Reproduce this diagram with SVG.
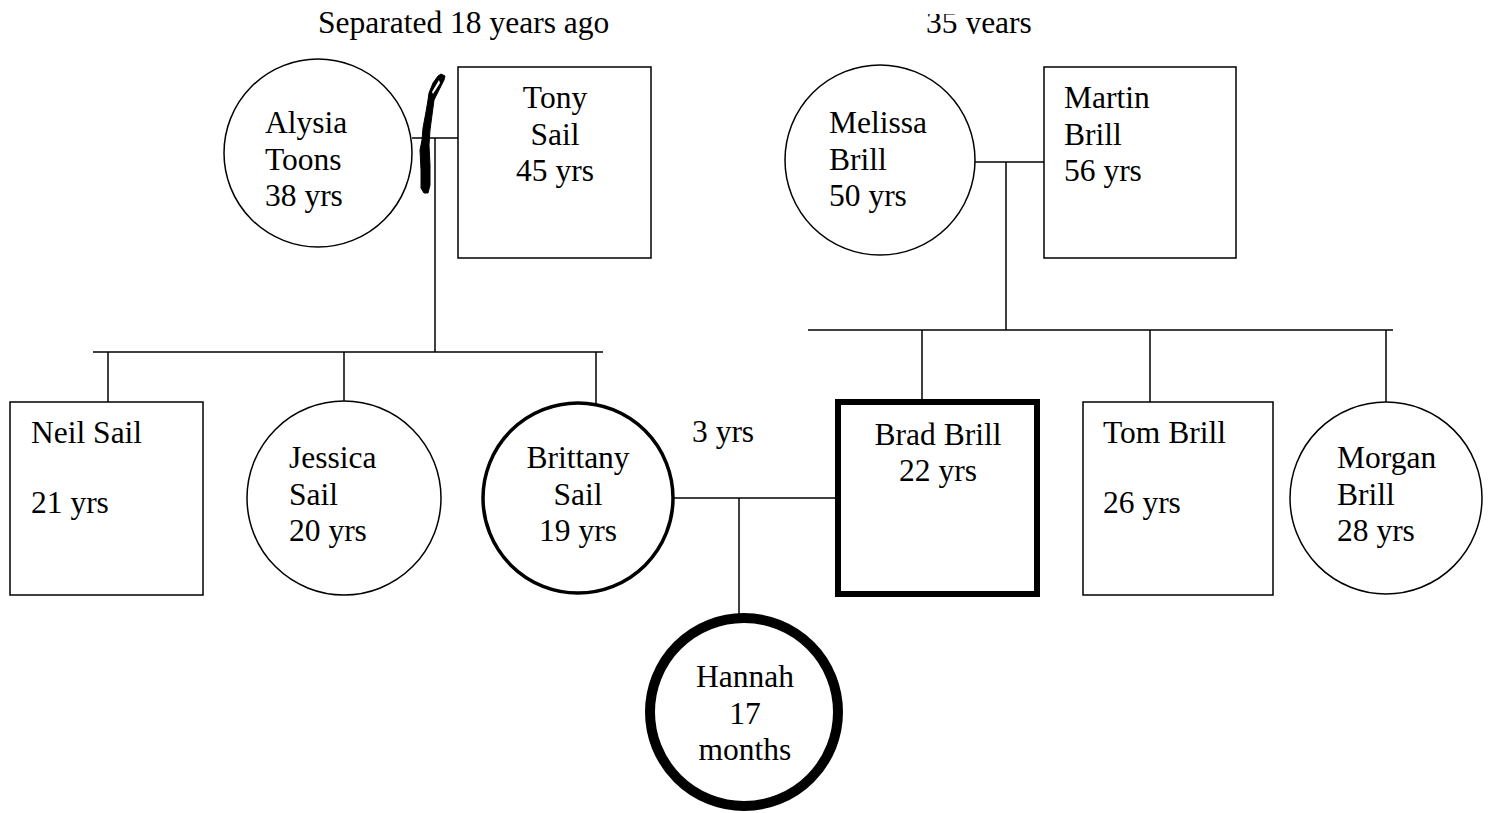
<svg xmlns="http://www.w3.org/2000/svg" width="1491" height="813" viewBox="0 0 1491 813">
<style>
  .t { font-family: "Liberation Serif", "Times New Roman", serif; font-size: 31.5px; fill: #000; }
  .m { text-anchor: middle; }
  .n { fill: #fff; stroke: #000; stroke-width: 1.5; }
  .b3 { stroke-width: 3.5; }
  .b5 { stroke-width: 6; }
  .b9 { stroke-width: 10; }
  .c line { stroke: #000; stroke-width: 1.5; }
</style>
<defs>
  <clipPath id="topclip"><rect x="0" y="14" width="1491" height="20"/></clipPath>
</defs>
<rect width="1491" height="813" fill="#fff"/>

<text class="t" x="318" y="33">Separated 18 years ago</text>
<text class="t" x="926" y="33" clip-path="url(#topclip)">35 years</text>
<text class="t" x="692" y="442">3 yrs</text>

<g class="c" id="connectors">
  <line x1="412" y1="138" x2="467" y2="138"/>
  <line x1="435" y1="138" x2="435" y2="352"/>
  <line x1="93" y1="352" x2="603" y2="352"/>
  <line x1="108" y1="352" x2="108" y2="402"/>
  <line x1="344" y1="352" x2="344" y2="401"/>
  <line x1="596" y1="352" x2="596" y2="404"/>
  <line x1="975" y1="162" x2="1044" y2="162"/>
  <line x1="1006" y1="162" x2="1006" y2="330"/>
  <line x1="808" y1="330" x2="1393" y2="330"/>
  <line x1="922" y1="330" x2="922" y2="400"/>
  <line x1="1150" y1="330" x2="1150" y2="402"/>
  <line x1="1386" y1="330" x2="1386" y2="402"/>
  <line x1="674" y1="498" x2="836" y2="498"/>
  <line x1="739" y1="498" x2="739" y2="614"/>
  <polygon points="438,76 433,83 429,93 428,100 426,112 423,128 422,140 420,150 421,170 421,188 424,193 428,193 430,185 430,165 429,145 430,130 432,115 434,100 440,88 444,80 445,76 441,74" fill="#000" stroke="#000" stroke-width="1" stroke-linejoin="round"/>
  <polygon points="439,80 432,92 433,94 440,83" fill="#fff"/>
</g>

<g id="alysia">
  <circle class="n" cx="318" cy="153" r="94"/>
  <text class="t" x="265" y="133">Alysia</text>
  <text class="t" x="265" y="170">Toons</text>
  <text class="t" x="265" y="206">38 yrs</text>
</g>
<g id="tony">
  <rect class="n" x="458" y="67" width="193" height="191"/>
  <text class="t m" x="555" y="108">Tony</text>
  <text class="t m" x="555" y="145">Sail</text>
  <text class="t m" x="555" y="181">45 yrs</text>
</g>
<g id="melissa">
  <circle class="n" cx="880" cy="160" r="95"/>
  <text class="t" x="829" y="133">Melissa</text>
  <text class="t" x="829" y="170">Brill</text>
  <text class="t" x="829" y="206">50 yrs</text>
</g>
<g id="martin">
  <rect class="n" x="1044" y="67" width="192" height="191"/>
  <text class="t" x="1064" y="108">Martin</text>
  <text class="t" x="1064" y="145">Brill</text>
  <text class="t" x="1064" y="181">56 yrs</text>
</g>
<g id="neil">
  <rect class="n" x="10" y="402" width="193" height="193"/>
  <text class="t" x="31" y="443">Neil Sail</text>
  <text class="t" x="31" y="513">21 yrs</text>
</g>
<g id="jessica">
  <circle class="n" cx="344" cy="498" r="97"/>
  <text class="t" x="289" y="468">Jessica</text>
  <text class="t" x="289" y="505">Sail</text>
  <text class="t" x="289" y="541">20 yrs</text>
</g>
<g id="brittany">
  <circle class="n b3" cx="578" cy="498" r="95"/>
  <text class="t m" x="578" y="468">Brittany</text>
  <text class="t m" x="578" y="505">Sail</text>
  <text class="t m" x="578" y="541">19 yrs</text>
</g>
<g id="brad">
  <rect class="n b5" x="838" y="402" width="199" height="192"/>
  <text class="t m" x="938" y="445">Brad Brill</text>
  <text class="t m" x="938" y="481">22 yrs</text>
</g>
<g id="tom">
  <rect class="n" x="1083" y="402" width="190" height="193"/>
  <text class="t" x="1103" y="443">Tom Brill</text>
  <text class="t" x="1103" y="513">26 yrs</text>
</g>
<g id="morgan">
  <circle class="n" cx="1386" cy="498" r="96"/>
  <text class="t" x="1337" y="468">Morgan</text>
  <text class="t" x="1337" y="505">Brill</text>
  <text class="t" x="1337" y="541">28 yrs</text>
</g>
<g id="hannah">
  <circle class="n b9" cx="744" cy="712" r="94"/>
  <text class="t m" x="745" y="687">Hannah</text>
  <text class="t m" x="745" y="724">17</text>
  <text class="t m" x="745" y="760">months</text>
</g>
</svg>
